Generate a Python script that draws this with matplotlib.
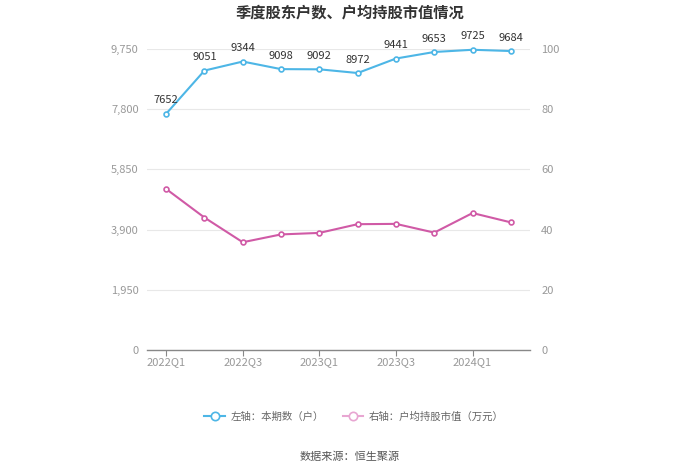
import matplotlib
matplotlib.use("Agg")
import matplotlib.pyplot as plt
from matplotlib.lines import Line2D

plt.rcParams['font.family'] = ['Noto Sans CJK SC', 'DejaVu Sans']

# Data
quarters = ["2022Q1", "2022Q2", "2022Q3", "2022Q4", "2023Q1",
            "2023Q2", "2023Q3", "2023Q4", "2024Q1", "2024Q2"]
holders = [7652, 9051, 9344, 9098, 9092, 8972, 9441, 9653, 9725, 9684]
avg_value = [53.5, 44.0, 35.8, 38.4, 38.9, 41.8, 41.9, 39.0, 45.5, 42.4]
left_ticks = [0, 1950, 3900, 5850, 7800, 9750]
right_ticks = [0, 20, 40, 60, 80, 100]

BLUE = "#4db6e6"
PINK = "#d05aa6"
GRID = "#e8e8e8"
TICK = "#999999"

fig = plt.figure(figsize=(7, 4.74), dpi=100)
ax = fig.add_axes([147 / 700, 1 - 350 / 474, 383 / 700, 301 / 474])
ax2 = ax.twinx()

x = list(range(len(quarters)))

ax.plot(x, holders, color=BLUE, lw=1.5, marker='o', ms=3.5,
        mfc='white', mec=BLUE, mew=1.2, zorder=3, clip_on=False)
for xi, v in zip(x, holders):
    ax.annotate(str(v), (xi, v), xytext=(0, 6), textcoords='offset points',
                ha='center', va='bottom', fontsize=8, color='#333333')

ax2.plot(x, avg_value, color=PINK, lw=1.5, marker='o', ms=3.5,
         mfc='white', mec=PINK, mew=1.2, zorder=3, clip_on=False)

ax.set_xlim(-0.5, len(quarters) - 0.5)
ax.set_ylim(0, 9750)
ax2.set_ylim(0, 100)
ax.set_yticks(left_ticks)
ax.set_yticklabels([f"{t:,}" for t in left_ticks])
ax2.set_yticks(right_ticks)
ax2.set_yticklabels([str(t) for t in right_ticks])

ax.set_xticks(x[::2])
ax.set_xticklabels(quarters[::2])

ax.grid(axis='y', color=GRID, lw=0.8)
ax.set_axisbelow(True)

for a in (ax, ax2):
    for side in ('top', 'left', 'right', 'bottom'):
        a.spines[side].set_visible(False)
ax.spines['bottom'].set_visible(True)
ax.spines['bottom'].set_color('#888888')
ax.spines['bottom'].set_linewidth(1)

ax.tick_params(axis='y', length=0, labelsize=8, labelcolor=TICK, pad=6)
ax2.tick_params(axis='y', length=0, labelsize=8, labelcolor=TICK, pad=8)
ax.tick_params(axis='x', length=4, color='#888888', labelsize=8,
               labelcolor=TICK, pad=1)

fig.text(0.5, 1 - 13 / 474, "季度股东户数、户均持股市值情况", ha='center', va='center',
         fontsize=11, fontweight='bold', color='#333333')

handles = [
    Line2D([0], [0], color=BLUE, lw=1.5, marker='o', ms=6, mfc='white', mec=BLUE, mew=1.2),
    Line2D([0], [0], color='#e8a6d2', lw=1.5, marker='o', ms=6, mfc='white', mec='#e8a6d2', mew=1.2),
]
fig.legend(handles, ["左轴：本期数（户）", "右轴：户均持股市值（万元）"],
           loc='center', bbox_to_anchor=(354 / 700, 1 - 417 / 474), ncol=2,
           frameon=False, fontsize=7.5, labelcolor='#666666',
           handlelength=2, columnspacing=1.8, handletextpad=0.5)

fig.text(350 / 700, 1 - 457 / 474, "数据来源：恒生聚源", ha='center', va='center',
         fontsize=8, color='#555555')

fig.savefig("out.png", dpi=100, facecolor='white')
